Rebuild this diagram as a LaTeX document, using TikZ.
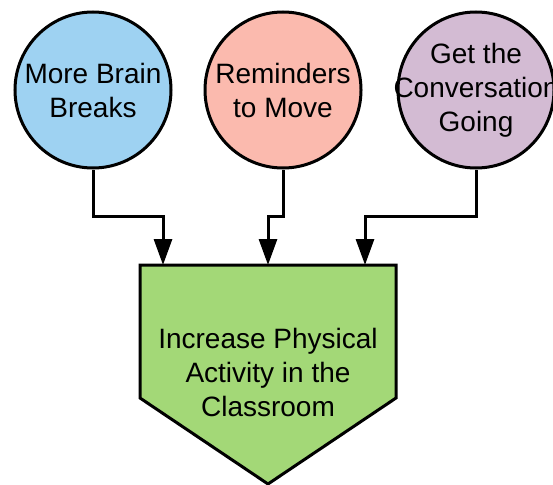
\documentclass[tikz,border=0pt]{standalone}
\usepackage{fontspec}
\setmainfont{Liberation Sans}
\usetikzlibrary{arrows.meta}
\definecolor{cblue}{RGB}{158,210,242}
\definecolor{cpink}{RGB}{251,186,174}
\definecolor{cpurple}{RGB}{211,187,211}
\definecolor{cgreen}{RGB}{163,216,119}
\begin{document}
\begin{tikzpicture}[x=1pt,y=-1pt,line width=3pt,line join=miter,
  bubble/.style={circle,draw=black,minimum size=156pt,inner sep=0pt},
  caption/.style={align=center,inner sep=0pt,font=\fontsize{28}{34}\selectfont},
  link/.style={draw=black,line width=3pt,-{Triangle[length=26pt,width=18pt]}}]
\useasboundingbox (0,0) rectangle (553,484);
\node[bubble,fill=cblue] (b1) at (93,90) {};
\node[bubble,fill=cpink] (b2) at (283,90) {};
\node[bubble,fill=cpurple] (b3) at (476,90) {};
\node[caption] (t1) at (b1) {More Brain\\Breaks};
\node[caption] (t2) at (b2) {Reminders\\to Move};
\node[caption] (t3) at (b3) {Get the\\Conversation\\Going};
\draw[fill=cgreen] (140,265) coordinate (gTL) -- (396,265) coordinate (gTR) -- (396,398) -- (268,484) -- (140,398) -- cycle;
\node[caption] (goal) at (268,372) {Increase Physical\\Activity in the\\Classroom};
\coordinate (a1) at (163,265);
\coordinate (a2) at (268,265);
\coordinate (a3) at (365,265);
\draw[link] (b1.south) -- (b1.south |- 0,216) -| (a1);
\draw[link] (b2.south) -- (b2.south |- 0,216) -| (a2);
\draw[link] (b3.south) -- (b3.south |- 0,216) -| (a3);
\end{tikzpicture}
\end{document}
